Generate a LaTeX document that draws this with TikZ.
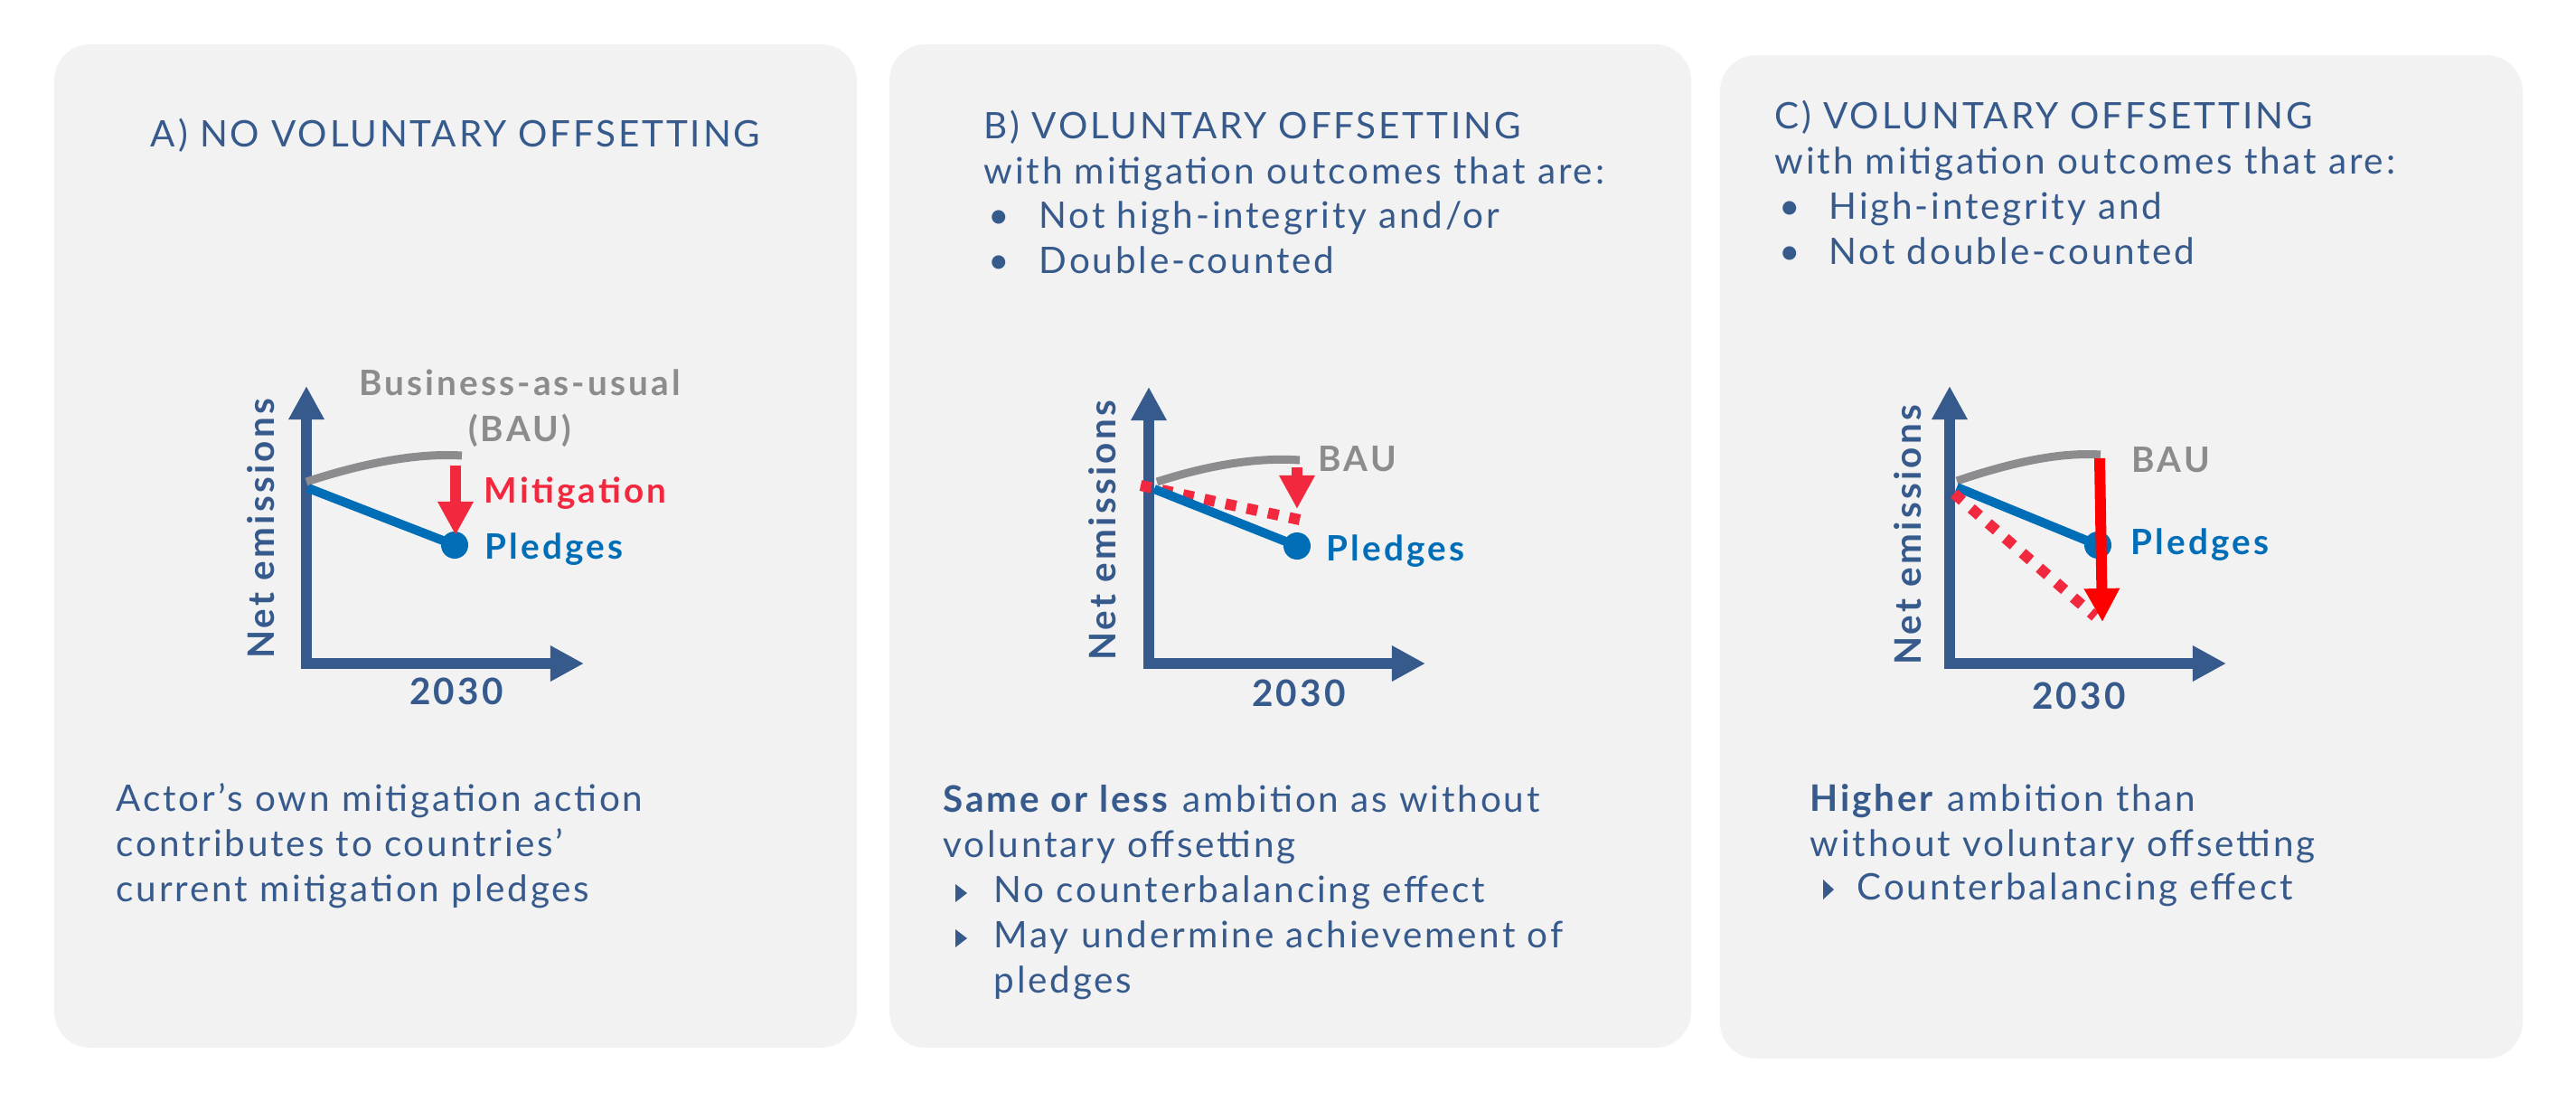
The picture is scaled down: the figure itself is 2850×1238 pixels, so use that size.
\documentclass[tikz,border=0pt]{standalone}
\usepackage{fontspec}
\setmainfont{Lato}[LetterSpace=7]
\newfontfamily\chartfont{Lato}[LetterSpace=8]
\usetikzlibrary{arrows.meta}

\definecolor{textblue}{HTML}{375A8C}
\definecolor{panelgray}{HTML}{F2F2F2}
\definecolor{baugray}{HTML}{8C8C8E}
\definecolor{pledgeblue}{HTML}{006EB7}
\definecolor{mitred}{HTML}{F2283E}
\definecolor{purered}{HTML}{FF0000}

\tikzset{
  panel/.style={fill=panelgray, rounded corners=0.4cm},
  axisline/.style={line width=0.12cm, draw=textblue, line join=miter, <->, >={Triangle[length=0.37cm,width=0.37cm]}},
  bauline/.style={line width=0.09cm, draw=baugray},
  pledgeline/.style={line width=0.1cm, draw=pledgeblue},
  pledgedot/.style={circle, fill=pledgeblue, minimum size=0.3cm, inner sep=0pt},
  mitarrow/.style={line width=0.12cm, draw=mitred, -{Triangle[length=0.37cm,width=0.37cm]}},
  offsetline/.style={line width=0.12cm, draw=mitred, dash pattern=on 0.12cm off 0.12cm},
  body/.style={anchor=base west, inner sep=0pt, text=textblue, font=\fontsize{11.5}{14}\selectfont},
  chartlbl/.style={anchor=base west, inner sep=0pt, font=\chartfont\fontsize{11}{13}\selectfont\bfseries},
  axislbl/.style={chartlbl, text=textblue, anchor=base, font=\chartfont\fontsize{11.5}{13}\selectfont\bfseries},
}

\begin{document}
\begin{tikzpicture}[x=0.01cm,y=-0.01cm]
\fill[white] (0,0) rectangle (2850,1238);
\useasboundingbox (0,0) rectangle (2850,1238);
\fill[panel] (60,49) rectangle (948,1159);
\fill[panel] (984,49) rectangle (1871,1159);
\fill[panel] (1903,61) rectangle (2791,1171);

% headings
\node[body, anchor=base] (titleA) at (504,162) {A) NO VOLUNTARY OFFSETTING};
\node[body] (titleB) at (1088,153) {B) VOLUNTARY OFFSETTING};
\node[body] (subB) at (1088,203) {with mitigation outcomes that are:};
\node[body] (bulB1) at (1093,252) {\makebox[0.56cm][l]{\textbullet}Not high-integrity and/or};
\node[body] (bulB2) at (1093,302) {\makebox[0.56cm][l]{\textbullet}Double-counted};
\node[body] (titleC) at (1963,142) {C) VOLUNTARY OFFSETTING};
\node[body] (subC) at (1963,192) {with mitigation outcomes that are:};
\node[body] (bulC1) at (1968,242) {\makebox[0.55cm][l]{\textbullet}High-integrity and};
\node[body] (bulC2) at (1968,292) {\makebox[0.55cm][l]{\textbullet}Not double-counted};

% chart A
\coordinate (oA) at (339,734);
\coordinate (yA) at (339,427);
\coordinate (xA) at (646,734);
\draw[axisline] (yA) -- (oA) -- (xA);
\coordinate (bauA0) at (339,533);
\coordinate (bauA1) at (511,504);
\draw[bauline] (bauA0) .. controls +(67,-22) and +(-47,-3) .. (bauA1);
\coordinate (plA0) at (341,540);
\node[pledgedot] (dotA) at (503,603) {};
\draw[pledgeline] (plA0) -- (dotA.center);
\coordinate (mitA0) at (504,515);
\coordinate (mitA1) at (504,592);
\draw[mitarrow] (mitA0) -- (mitA1);
\node[chartlbl, text=baugray, anchor=base] (bauLblA) at (575,437) {Business-as-usual};
\node[chartlbl, text=baugray, anchor=base] (bauLblA2) at (575,488) {(BAU)};
\node[chartlbl, text=mitred] (mitLblA) at (535,556) {Mitigation};
\node[chartlbl, text=pledgeblue] (plLblA) at (536,618) {Pledges};
\node[axislbl] (yearA) at (505,779) {2030};
\node[axislbl, rotate=90] (netA) at (303,585) {Net emissions};

% chart B
\coordinate (oB) at (1271,734);
\coordinate (yB) at (1271,428);
\coordinate (xB) at (1577,734);
\draw[axisline] (yB) -- (oB) -- (xB);
\coordinate (bauB0) at (1280,533);
\coordinate (bauB1) at (1438,509);
\draw[bauline] (bauB0) .. controls +(62,-20) and +(-44,-3) .. (bauB1);
\coordinate (offB0) at (1262,537);
\coordinate (offB1) at (1438,575);
\draw[offsetline] (offB0) -- (offB1);
\coordinate (plB0) at (1277,541);
\node[pledgedot] (dotB) at (1435,604) {};
\draw[pledgeline] (plB0) -- (dotB.center);
\coordinate (mitB0) at (1435,517);
\coordinate (mitB1) at (1435,563);
\draw[mitarrow] (mitB0) -- (mitB1);
\node[chartlbl, text=baugray] (bauLblB) at (1458,521) {BAU};
\node[chartlbl, text=pledgeblue] (plLblB) at (1467,620) {Pledges};
\node[axislbl] (yearB) at (1437,781) {2030};
\node[axislbl, rotate=90] (netB) at (1234,587) {Net emissions};

% chart C
\coordinate (oC) at (2157,734);
\coordinate (yC) at (2157,427);
\coordinate (xC) at (2463,734);
\draw[axisline] (yC) -- (oC) -- (xC);
\coordinate (bauC0) at (2165,532);
\coordinate (bauC1) at (2324,503);
\draw[bauline] (bauC0) .. controls +(62,-21) and +(-44,-3) .. (bauC1);
\coordinate (plC0) at (2165,539);
\node[pledgedot] (dotC) at (2321,603) {};
\draw[pledgeline] (plC0) -- (dotC.center);
\coordinate (offC0) at (2162,546);
\coordinate (offC1) at (2318,682);
\draw[offsetline, dash pattern=on 0.12cm off 0.13cm] (offC0) -- (offC1);
\coordinate (mitC0) at (2323,507);
\coordinate (mitC1) at (2326,688);
\draw[mitarrow, draw=purered] (mitC0) -- (mitC1);
\node[chartlbl, text=baugray] (bauLblC) at (2358,522) {BAU};
\node[chartlbl, text=pledgeblue] (plLblC) at (2357,613) {Pledges};
\node[axislbl] (yearC) at (2300,784) {2030};
\node[axislbl, rotate=90] (netC) at (2125,592) {Net emissions};

% conclusions
\node[body] (conA1) at (128,897) {Actor’s own mitigation action};
\node[body] (conA2) at (128,947) {contributes to countries’};
\node[body] (conA3) at (128,997) {current mitigation pledges};
\node[body] (conB1) at (1043,898) {\textbf{Same or less} ambition as without};
\node[body] (conB2) at (1043,948) {voluntary offsetting};
\fill[textblue] (1057,978) -- (1070,988) -- (1057,998) -- cycle;
\node[body] (conB3) at (1099,998) {No counterbalancing effect};
\fill[textblue] (1057,1028) -- (1070,1038) -- (1057,1048) -- cycle;
\node[body] (conB4) at (1099,1048) {May undermine achievement of};
\node[body] (conB5) at (1099,1098) {pledges};
\node[body] (conC1) at (2002,897) {\textbf{Higher} ambition than};
\node[body] (conC2) at (2002,947) {without voluntary offsetting};
\fill[textblue] (2017,973) -- (2029,984) -- (2017,995) -- cycle;
\node[body] (conC3) at (2054,995) {Counterbalancing effect};
\end{tikzpicture}
\end{document}
